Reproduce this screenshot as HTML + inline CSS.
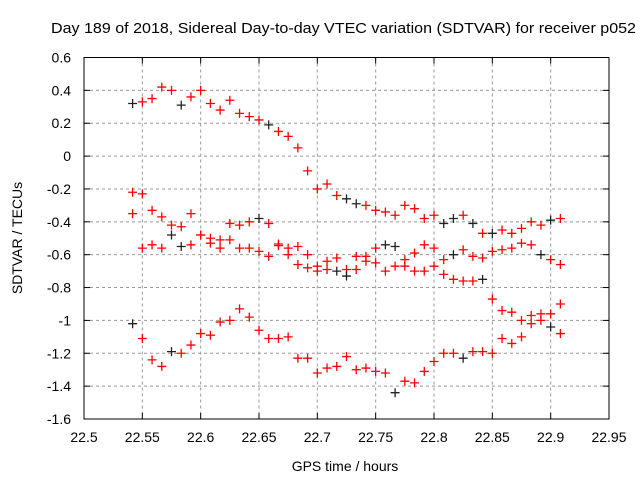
<!DOCTYPE html>
<html><head><meta charset="utf-8"><style>
body{margin:0;background:#fff}
svg text{font-family:"Liberation Sans",sans-serif;font-size:14px;fill:#000}
</style></head><body>
<svg id="chart" width="640" height="480" viewBox="0 0 640 480" xmlns="http://www.w3.org/2000/svg">
<rect width="640" height="480" fill="#fff"/>
<text x="51" y="33" textLength="585" lengthAdjust="spacingAndGlyphs" style="font-size:15px">Day 189 of 2018, Sidereal Day-to-day VTEC variation (SDTVAR) for receiver p052</text>
<text x="345" y="471" text-anchor="middle">GPS time / hours</text>
<text transform="translate(22,238) rotate(-90)" text-anchor="middle">SDTVAR / TECUs</text>
<g id="grid"></g><g id="ticks"></g><g id="marks"></g>
<rect x="84" y="57.5" width="525" height="361.5" fill="none" stroke="#000" stroke-width="1"/>
</svg>
<script>
const xTicks=[22.5,22.55,22.6,22.65,22.7,22.75,22.8,22.85,22.9,22.95];
const xTickLabels=["22.5","22.55","22.6","22.65","22.7","22.75","22.8","22.85","22.9","22.95"];
const yTicks=[0.6,0.4,0.2,0,-0.2,-0.4,-0.6,-0.8,-1,-1.2,-1.4,-1.6];
const yTickLabels=["0.6","0.4","0.2","0","-0.2","-0.4","-0.6","-0.8","-1","-1.2","-1.4","-1.6"];
const startTime=22.54167, stepTime=0.008333;
const seriesA=[0.32,0.33,0.35,0.42,0.40,0.31,0.36,0.40,0.32,0.28,0.34,0.26,0.24,0.22,0.19,0.15,0.12,0.05,-0.09,-0.20,-0.17,-0.24,-0.26,-0.29,-0.30,-0.33,-0.34,-0.36,-0.30,-0.32,-0.38,-0.36,-0.41,-0.38,-0.36,-0.41,-0.47,-0.47,-0.45,-0.47,-0.44,-0.40,-0.42,-0.39,-0.38];
const seriesB=[-0.22,-0.23,-0.33,-0.37,-0.42,-0.43,-0.35,-0.48,-0.50,-0.51,-0.41,-0.42,-0.40,-0.38,-0.41,-0.535,-0.56,-0.55,-0.60,-0.67,-0.64,-0.62,-0.69,-0.61,-0.61,-0.56,-0.54,-0.55,-0.63,-0.59,-0.54,-0.56,-0.63,-0.60,-0.57,-0.61,-0.62,-0.58,-0.57,-0.56,-0.53,-0.54,-0.60,-0.63,-0.66];
const seriesC=[-0.35,-0.56,-0.54,-0.56,-0.48,-0.55,-0.54,-0.48,-0.53,-0.56,-0.51,-0.56,-0.56,-0.58,-0.61,-0.545,-0.60,-0.66,-0.68,-0.70,-0.69,-0.70,-0.73,-0.69,-0.64,-0.65,-0.70,-0.67,-0.67,-0.70,-0.70,-0.67,-0.72,-0.75,-0.76,-0.76,-0.75,-0.87,-0.94,-0.95,-1.00,-0.97,-0.96,-0.96,-0.90];
const seriesD=[-1.02,-1.11,-1.24,-1.28,-1.19,-1.20,-1.15,-1.08,-1.09,-1.01,-1.00,-0.93,-0.98,-1.06,-1.11,-1.11,-1.10,-1.23,-1.23,-1.32,-1.29,-1.28,-1.22,-1.30,-1.29,-1.31,-1.32,-1.44,-1.37,-1.38,-1.31,-1.25,-1.20,-1.20,-1.23,-1.19,-1.19,-1.20,-1.11,-1.14,-1.10,-1.02,-1.00,-1.04,-1.08];
const blackIdx=[[0,"A"],[0,"D"],[4,"C"],[5,"A"],[5,"C"],[13,"B"],[14,"A"],[22,"A"],[23,"A"],[21,"C"],[22,"C"],[27,"D"],[26,"B"],[27,"B"],[32,"A"],[33,"A"],[33,"B"],[34,"D"],[35,"A"],[36,"C"],[37,"A"],[42,"B"],[43,"A"],[43,"D"],[4,"D"]];
const X0=84,X1=609,Y0=57.5,Y1=419;
const xs=v=>X0+(v-22.5)/(22.95-22.5)*(X1-X0);
const ys=v=>Y0+(0.6-v)/(0.6+1.6)*(Y1-Y0);
const NS="http://www.w3.org/2000/svg";
function mk(tag,attrs,parent){const e=document.createElementNS(NS,tag);for(const k in attrs)e.setAttribute(k,attrs[k]);document.getElementById(parent).appendChild(e);return e;}
xTicks.forEach((t,i)=>{const x=xs(t);
 if(i>0&&i<xTicks.length-1){const g=mk("line",{x1:x,x2:x,y1:Y0,y2:Y1,stroke:"#999","stroke-dasharray":"3,3"},"grid");
 
 }
 mk("line",{x1:x,x2:x,y1:Y1,y2:Y1-6,stroke:"#000"},"ticks");
 mk("line",{x1:x,x2:x,y1:Y0,y2:Y0+6,stroke:"#000"},"ticks");
 const l=mk("text",{x:x,y:442,"text-anchor":"middle"},"ticks");l.textContent=xTickLabels[i];
 
 });
yTicks.forEach((t,i)=>{const y=ys(t);
 if(i>0&&i<yTicks.length-1){const g=mk("line",{x1:X0,x2:X1,y1:y,y2:y,stroke:"#999","stroke-dasharray":"3,3"},"grid");
 
 }
 mk("line",{x1:X0,x2:X0+6,y1:y,y2:y,stroke:"#000"},"ticks");
 mk("line",{x1:X1,x2:X1-6,y1:y,y2:y,stroke:"#000"},"ticks");
 const l=mk("text",{x:71,y:y+5,"text-anchor":"end"},"ticks");l.textContent=yTickLabels[i];
 
 });
const series={A:seriesA,B:seriesB,C:seriesC,D:seriesD};
const isBlack=(i,s)=>blackIdx.some(p=>p[0]===i&&p[1]===s);
function cross(t,v,color){const x=xs(t),y=ys(v);
 const g=mk("path",{d:`M${x-4.5},${y}H${x+4.5}M${x},${y-4.5}V${y+4.5}`,stroke:color,"stroke-width":1.3},"marks");
 
 }
for(const s in series){series[s].forEach((v,i)=>{cross(startTime+i*stepTime,v,isBlack(i,s)?"#222":"#f00");});}
</script>
</body></html>
